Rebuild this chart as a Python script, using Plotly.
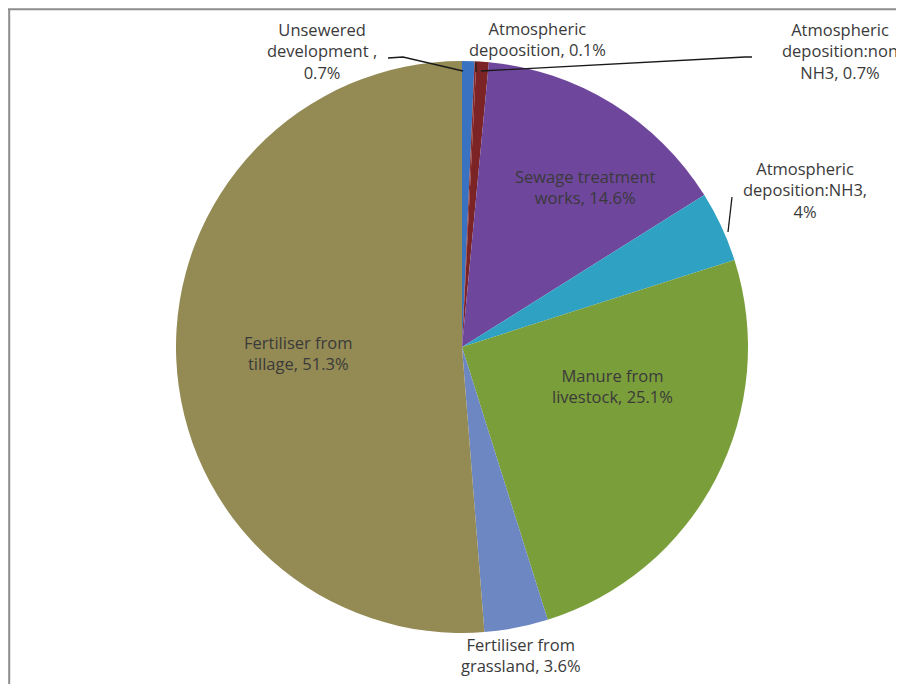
import plotly.graph_objects as go

W, H = 904, 684
OFF_X, OFF_Y = 8, 8   # page body margin offset
FW, FH = W - OFF_X, H - OFF_Y   # figure size that fits inside the window

sources = [
    "Unsewered development ,",
    "Atmospheric depoosition",
    "Atmospheric deposition:non NH3",
    "Sewage treatment works",
    "Atmospheric deposition:NH3",
    "Manure from livestock",
    "Fertiliser from grassland",
    "Fertiliser from tillage",
]
shares = [0.7, 0.1, 0.7, 14.6, 4.0, 25.1, 3.6, 51.3]
share_text = ["0.7%", "0.1%", "0.7%", "14.6%", "4%", "25.1%", "3.6%", "51.3%"]
slice_colors = ["#3A72C2", "#8B2A2A", "#7C2325", "#6E469C", "#2FA1C2",
                "#7A9E3A", "#6C87C2", "#948A54"]

label_blocks = [
    "Unsewered<br>development ,<br>" + share_text[0],
    "Atmospheric<br>depoosition, " + share_text[1],
    "Atmospheric<br>deposition:non<br>NH3, " + share_text[2],
    "Sewage treatment<br>works, " + share_text[3],
    "Atmospheric<br>deposition:NH3,<br>" + share_text[4],
    "Manure from<br>livestock, " + share_text[5],
    "Fertiliser from<br>grassland, " + share_text[6],
    "Fertiliser from<br>tillage, " + share_text[7],
]
label_px = [(322, 51), (537, 39), (840, 51), (585, 187),
            (805, 190), (612, 386), (521, 655), (298, 353)]

cx, cy, r = 462, 347, 286


def fx(x):
    return (x - OFF_X) / FW


def fy(y):
    return 1 - (y - OFF_Y) / FH


fig = go.Figure(go.Pie(
    labels=sources,
    values=shares,
    sort=False,
    direction="clockwise",
    rotation=0,
    textinfo="none",
    hoverinfo="label+percent",
    marker=dict(colors=slice_colors, line=dict(width=0)),
    domain=dict(x=[fx(cx - r), fx(cx + r)], y=[fy(cy + r), fy(cy - r)]),
    showlegend=False,
))

for txt, (px, py) in zip(label_blocks, label_px):
    fig.add_annotation(
        x=fx(px), y=fy(py), xref="paper", yref="paper",
        text=txt, showarrow=False, align="center",
        xanchor="center", yanchor="middle",
        font=dict(family="Open Sans", size=16.5, color="#3a3a3a"),
    )


def pline(pts, color="#1a1a1a", width=1.3):
    path = "M " + " L ".join(f"{fx(x)} {fy(y)}" for x, y in pts)
    fig.add_shape(type="path", path=path, xref="paper", yref="paper",
                  line=dict(color=color, width=width))


pline([(388, 58), (403, 57), (463, 71)])
pline([(476, 62), (476, 72)])
pline([(481, 71), (745, 57), (752, 57)])
pline([(732, 197), (728, 232)])

# frame (top and left edges visible)
frame_style = dict(color="#8c8c8c", width=2)
fig.add_shape(type="line", xref="paper", yref="paper",
              x0=1.2 / FW, x1=1.2 / FW, y0=0, y1=1 - 1.2 / FH, line=frame_style)
fig.add_shape(type="line", xref="paper", yref="paper",
              x0=0, x1=1, y0=1 - 1.2 / FH, y1=1 - 1.2 / FH, line=frame_style)

fig.update_layout(
    width=FW, height=FH,
    margin=dict(l=0, r=0, t=0, b=0),
    paper_bgcolor="white", plot_bgcolor="white",
)

fig.write_html("out.html", post_script="document.body.style.overflow='hidden';")
